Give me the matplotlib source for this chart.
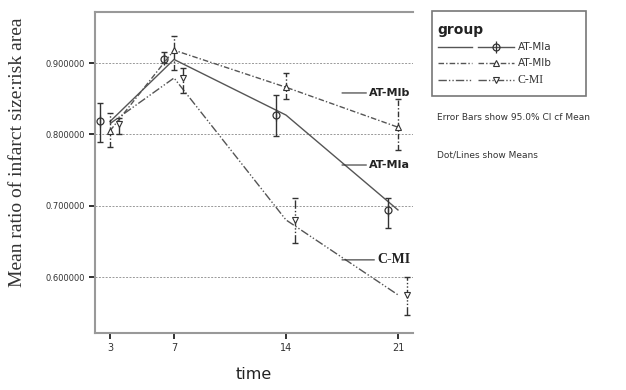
import matplotlib
matplotlib.use("Agg")
import matplotlib.pyplot as plt
from matplotlib.lines import Line2D
import numpy as np

# ---- data ----
days = [3, 7, 14, 21]
groups = ["AT-MIa", "AT-MIb", "C-MI"]
means_a = [0.818, 0.905, 0.827, 0.694]
low_a = [0.789, 0.900, 0.798, 0.669]
high_a = [0.844, 0.915, 0.855, 0.711]
means_b = [0.805, 0.918, 0.866, 0.810]
low_b = [0.782, 0.890, 0.850, 0.778]
high_b = [0.830, 0.938, 0.886, 0.849]
means_c = [0.815, 0.879, 0.680, 0.575]
low_c = [0.800, 0.858, 0.648, 0.547]
high_c = [0.823, 0.893, 0.711, 0.600]
yticks = [0.6, 0.7, 0.8, 0.9]
ytick_labels = ["0.600000", "0.700000", "0.800000", "0.900000"]

fig = plt.figure(figsize=(6.26, 3.9), dpi=100)
ax = fig.add_axes([95/626, 57/390, 318/626, 321/390])
ax.set_xlim(2.06, 21.94)
ax.set_ylim(0.5215, 0.9715)

col = "#555555"
ls_a = "-"
ls_b = (0, (4, 1.5, 1, 1.5))
ls_c = (0, (6, 1.5, 1, 1.5, 1, 1.5))
series = [
    (means_a, low_a, high_a, ls_a, "phi", -0.6),
    (means_b, low_b, high_b, ls_b, "^", 0.0),
    (means_c, low_c, high_c, ls_c, "v", 0.55),
]


def draw_marker(target, x, y, mk, transform=None):
    kw = {} if transform is None else {"transform": transform}
    if mk == "phi":
        target.add_artist(Line2D(np.atleast_1d(x), np.atleast_1d(y), linestyle="none",
                                 marker="o", markersize=5, markerfacecolor="none",
                                 markeredgecolor="#333333", markeredgewidth=0.9, **kw))
        target.add_artist(Line2D(np.atleast_1d(x), np.atleast_1d(y), linestyle="none",
                                 marker="|", markersize=8, markeredgecolor="#333333",
                                 markeredgewidth=0.9, **kw))
    else:
        target.add_artist(Line2D(np.atleast_1d(x), np.atleast_1d(y), linestyle="none",
                                 marker=mk, markersize=5, markerfacecolor="white",
                                 markeredgecolor="#333333", markeredgewidth=0.8, **kw))


for m, lo, hi, ls, mk, off in series:
    ax.plot(days, m, color=col, linestyle=ls, linewidth=1.0)
    xs = np.array(days) + off
    m = np.array(m)
    cont = ax.errorbar(xs, m, yerr=[m - np.array(lo), np.array(hi) - m], fmt="none",
                       ecolor="#333333", elinewidth=1.0, capsize=2, capthick=1.0)
    for lc in cont[2]:
        lc.set_linestyle(ls if ls != "-" else "solid")
    if mk == "phi":
        ax.plot(xs, m, linestyle="none", marker="o", markersize=5,
                markerfacecolor="none", markeredgecolor="#333333", markeredgewidth=0.9)
        ax.plot(xs, m, linestyle="none", marker="|", markersize=8,
                markeredgecolor="#333333", markeredgewidth=0.9)
    else:
        ax.plot(xs, m, linestyle="none", marker=mk, markersize=5,
                markerfacecolor="white", markeredgecolor="#333333",
                markeredgewidth=0.8)

ax.set_yticks(yticks)
ax.set_yticklabels(ytick_labels, fontsize=6, color="#333333")
ax.set_xticks(days)
ax.set_xticklabels([str(d) for d in days], fontsize=7, color="#333333")
for y in yticks:
    ax.axhline(y, color="#999999", linestyle=(0, (2, 1.5)), linewidth=0.7, zorder=0)

for s in ["left", "bottom", "top"]:
    ax.spines[s].set_color("#999999")
    ax.spines[s].set_linewidth(1.5)
ax.spines["right"].set_visible(False)
ax.tick_params(axis="both", length=4, width=1.3, color="#222222")

ax.set_ylabel("Mean ratio of infarct size:risk area", family="Liberation Serif",
              fontsize=14, color="#333333")
ax.yaxis.set_label_coords(-0.217, 0.564)
ax.set_xlabel("time", fontsize=11.5, color="#222222", labelpad=10)


def lab(text, y, x0, x1, fs, fam):
    ax.annotate(text, xy=(x0, y), xycoords="data", xytext=(x1, y),
                textcoords="data", fontsize=fs, family=fam, fontweight="bold",
                va="center", ha="left", color="#222222",
                arrowprops=dict(arrowstyle="-", color="#333333", lw=0.8,
                                shrinkA=0, shrinkB=0))


lab("AT-MIb", 0.858, 17.5, 19.2, 8, "DejaVu Sans")
lab("AT-MIa", 0.757, 17.5, 19.2, 8, "DejaVu Sans")
lab("C-MI", 0.624, 17.5, 19.7, 10, "Liberation Serif")

# legend box
lx0, lx1, ly0, ly1 = 432/626, 586/626, 1 - 96/390, 1 - 11/390
fig.patches.append(plt.Rectangle((lx0, ly0), lx1 - lx0, ly1 - ly0,
                                 transform=fig.transFigure, fill=False,
                                 edgecolor="#777777", linewidth=1.2))
fig.text(437/626, 1 - 30/390, "group", fontsize=10, fontweight="bold",
         va="center", color="#222222")
leg_y = [47, 63, 80]
styles = [(ls_a, "phi"), (ls_b, "^"), (ls_c, "v")]
for (ls, mk), g, yy in zip(styles, groups, leg_y):
    yf = 1 - yy/390
    fig.add_artist(Line2D([438/626, 472/626], [yf, yf], color=col,
                          linestyle=ls, linewidth=1.0, transform=fig.transFigure))
    fig.add_artist(Line2D([478/626, 514/626], [yf, yf], color=col,
                          linestyle=ls, linewidth=1.0, transform=fig.transFigure))
    draw_marker(fig, 496/626, yf, mk, transform=fig.transFigure)
    fam = "Liberation Serif" if g == "C-MI" else "DejaVu Sans"
    fig.text(518/626, yf, g, fontsize=7.5 if fam != "Liberation Serif" else 8.5,
             family=fam, va="center", color="#333333")

fig.text(437/626, 1 - 118/390, "Error Bars show 95.0% Cl cf Mean",
         fontsize=6.5, va="center", color="#333333")
fig.text(437/626, 1 - 155/390, "Dot/Lines show Means",
         fontsize=6.5, va="center", color="#333333")

fig.savefig("out.png", dpi=100)
